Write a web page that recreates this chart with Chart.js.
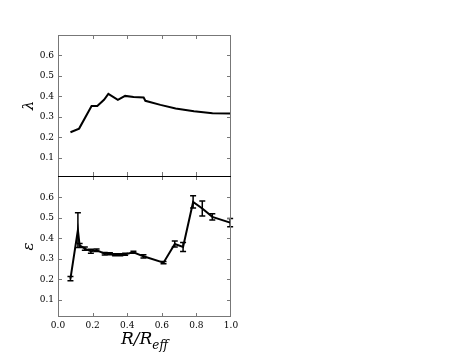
<!DOCTYPE html>
<html>
<head>
<meta charset="utf-8">
<script src="https://cdn.jsdelivr.net/npm/chart.js@4"></script>
<style>
  body { margin: 0; background: #fff; }
  canvas { position: absolute; left: 0; top: 0; }
</style>
</head>
<body>
<canvas id="lambdaChart" width="463" height="354"></canvas>
<canvas id="epsChart" width="463" height="354"></canvas>
<script>
const rLambda = [0.072, 0.122, 0.194, 0.227, 0.266, 0.291, 0.346, 0.388, 0.437, 0.495, 0.505, 0.592, 0.680, 0.786, 0.893, 1.0];
const lambdaVals = [0.224, 0.242, 0.353, 0.353, 0.383, 0.412, 0.383, 0.402, 0.397, 0.394, 0.378, 0.358, 0.340, 0.327, 0.317, 0.316];

const rEps = [0.072, 0.115, 0.125, 0.155, 0.19, 0.223, 0.27, 0.30, 0.33, 0.36, 0.388, 0.436, 0.494, 0.61, 0.675, 0.723, 0.781, 0.834, 0.892, 0.995];
const epsVals = [0.203, 0.44, 0.365, 0.35, 0.337, 0.342, 0.325, 0.325, 0.32, 0.32, 0.322, 0.332, 0.312, 0.281, 0.372, 0.358, 0.578, 0.546, 0.505, 0.477];
const epsErr = [0.01, 0.085, 0.01, 0.008, 0.01, 0.006, 0.006, 0.005, 0.005, 0.005, 0.005, 0.005, 0.008, 0.005, 0.015, 0.022, 0.03, 0.037, 0.015, 0.02];

const xTicks = [0, 0.2, 0.4, 0.6, 0.8, 1.0];
const yTicks = [0.1, 0.2, 0.3, 0.4, 0.5, 0.6];

const serif = "'DejaVu Serif', serif";

function toPoints(xs, ys) {
  return xs.map((x, i) => ({ x: x, y: ys[i] }));
}

// frame with inward ticks, like the matplotlib figure
const framePlugin = {
  id: "frame",
  afterDraw(chart, args, opts) {
    const { ctx, chartArea: a, scales } = chart;
    ctx.save();
    ctx.lineWidth = 1;
    ctx.strokeStyle = "#777";
    ctx.beginPath();
    // inner ticks
    xTicks.slice(1, -1).forEach((v) => {
      const px = Math.round(scales.x.getPixelForValue(v)) + 0.5;
      ctx.moveTo(px, a.top); ctx.lineTo(px, a.top + 4);
      ctx.moveTo(px, a.bottom); ctx.lineTo(px, a.bottom - 4);
    });
    yTicks.forEach((v) => {
      const py = Math.round(scales.y.getPixelForValue(v)) + 0.5;
      ctx.moveTo(a.left, py); ctx.lineTo(a.left + 4, py);
      ctx.moveTo(a.right, py); ctx.lineTo(a.right - 4, py);
    });
    ctx.stroke();
    // sides
    ctx.beginPath();
    ctx.moveTo(a.left + 0.5, a.top);
    ctx.lineTo(a.left + 0.5, a.bottom);
    ctx.moveTo(a.right - 0.5, a.top);
    ctx.lineTo(a.right - 0.5, a.bottom);
    if (opts.bottomEdge) {
      ctx.moveTo(a.left, a.bottom - 0.5);
      ctx.lineTo(a.right, a.bottom - 0.5);
    }
    ctx.stroke();
    if (opts.topEdge) {
      ctx.strokeStyle = opts.topColor || "#777";
      ctx.beginPath();
      ctx.moveTo(a.left, a.top + 0.5);
      ctx.lineTo(a.right, a.top + 0.5);
      ctx.stroke();
    }
    ctx.restore();
  },
};

// vertical error bars on the epsilon profile
const errorBarPlugin = {
  id: "errorBars",
  afterDatasetsDraw(chart) {
    if (chart.canvas.id !== "epsChart") return;
    const { ctx, scales } = chart;
    ctx.save();
    ctx.strokeStyle = "#000";
    ctx.lineWidth = 1.5;
    ctx.beginPath();
    rEps.forEach((r, i) => {
      const px = scales.x.getPixelForValue(r);
      const top = scales.y.getPixelForValue(epsVals[i] + epsErr[i]);
      const bot = scales.y.getPixelForValue(epsVals[i] - epsErr[i]);
      ctx.moveTo(px, top); ctx.lineTo(px, bot);
      ctx.moveTo(px - 3, top); ctx.lineTo(px + 3, top);
      ctx.moveTo(px - 3, bot); ctx.lineTo(px + 3, bot);
    });
    ctx.stroke();
    ctx.restore();
  },
};

// x label R/R_eff with subscript
const xLabelPlugin = {
  id: "xLabel",
  afterDraw(chart) {
    if (chart.canvas.id !== "epsChart") return;
    const { ctx, chartArea: a } = chart;
    const cx = (a.left + a.right) / 2;
    ctx.save();
    ctx.fillStyle = "#000";
    ctx.textBaseline = "alphabetic";
    const main = "R/R";
    ctx.font = "italic 12px " + serif;
    const subW = ctx.measureText("eff").width;
    ctx.font = "italic 17px " + serif;
    const mainW = ctx.measureText(main).width;
    const x0 = cx - (mainW + subW) / 2;
    ctx.fillText(main, x0, 344);
    ctx.font = "italic 12px " + serif;
    ctx.fillText("eff", x0 + mainW, 349);
    ctx.restore();
  },
};

function yScale(title, min, max) {
  return {
    type: "linear",
    min: min,
    max: max,
    afterBuildTicks: (scale) => {
      scale.ticks = yTicks.map((v) => ({ value: v }));
    },
    afterFit: (scale) => { scale.width = 58; },
    grid: { display: false, drawTicks: false },
    border: { display: false },
    ticks: {
      color: "#000",
      padding: 4,
      font: { family: serif, size: 9 },
      callback: (v) => v.toFixed(1),
    },
    title: {
      display: true,
      text: title,
      color: "#000",
      font: { family: serif, size: 15, style: "italic" },
      padding: { top: 20, bottom: 0 },
    },
  };
}

Chart.register(framePlugin, errorBarPlugin, xLabelPlugin);

// top panel: lambda
new Chart(document.getElementById("lambdaChart").getContext("2d"), {
  type: "line",
  data: {
    datasets: [
      {
        data: toPoints(rLambda, lambdaVals),
        borderColor: "#000",
        borderWidth: 2,
        pointRadius: 0,
        tension: 0,
      },
    ],
  },
  options: {
    responsive: false,
    animation: false,
    layout: { padding: { top: 35, right: 232, bottom: 178, left: 0 } },
    plugins: {
      legend: { display: false },
      tooltip: { enabled: false },
      frame: { topEdge: true, bottomEdge: false },
    },
    scales: {
      x: { type: "linear", min: 0, max: 1, display: false },
      y: yScale("λ", 0.01, 0.70),
    },
  },
});

// bottom panel: epsilon with error bars
new Chart(document.getElementById("epsChart").getContext("2d"), {
  type: "line",
  data: {
    datasets: [
      {
        data: toPoints(rEps, epsVals),
        borderColor: "#000",
        borderWidth: 2,
        pointRadius: 0,
        tension: 0,
      },
    ],
  },
  options: {
    responsive: false,
    animation: false,
    layout: { padding: { top: 176, right: 232, bottom: 0, left: 0 } },
    plugins: {
      legend: { display: false },
      tooltip: { enabled: false },
      frame: { topEdge: true, topColor: "#000", bottomEdge: true },
    },
    scales: {
      x: {
        type: "linear",
        min: 0,
        max: 1,
        afterBuildTicks: (scale) => {
          scale.ticks = xTicks.map((v) => ({ value: v }));
        },
        afterFit: (scale) => { scale.height = 37; },
        grid: { display: false, drawTicks: false },
        border: { display: false },
        ticks: {
          color: "#000",
          padding: 3,
          maxRotation: 0,
          font: { family: serif, size: 9 },
          callback: (v) => v.toFixed(1),
        },
      },
      y: yScale("ε", 0.015, 0.705),
    },
  },
});
</script>
</body>
</html>
